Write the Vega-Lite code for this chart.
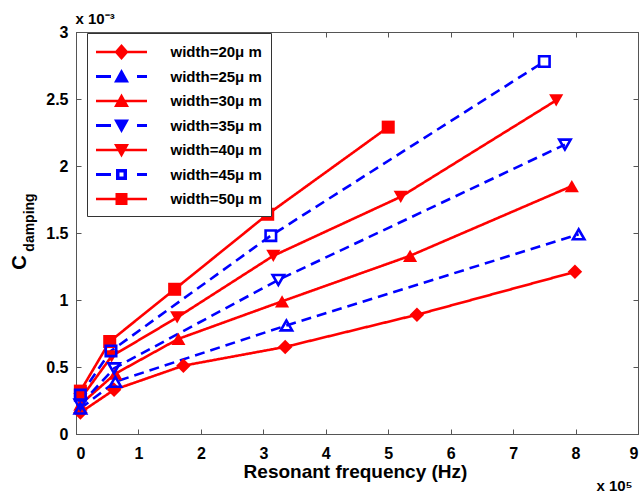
{
  "$schema": "https://vega.github.io/schema/vega-lite/v6.json",
  "width": 562,
  "height": 402,
  "autosize": {"type": "none"},
  "padding": {"left": 76, "top": 32, "right": 2, "bottom": 58},
  "background": "white",
  "config": {
    "view": {"stroke": "#555", "strokeWidth": 1},
    "font": "Liberation Sans",
    "axis": {
      "grid": false,
      "domainColor": "#555",
      "tickColor": "#555",
      "tickSize": -5,
      "labelFont": "Liberation Sans",
      "labelFontWeight": "bold",
      "labelFontSize": 16,
      "labelColor": "black",
      "titleFont": "Liberation Sans",
      "titleFontWeight": "bold",
      "titleColor": "black"
    },
    "legend": {
      "orient": "none", "legendX": 11, "legendY": 1, "title": null,
      "fillColor": "white", "strokeColor": "#333", "padding": 9,
      "symbolSize": 400, "symbolStrokeWidth": 0, "symbolOpacity": 1, "symbolOffset": 15.5,
      "labelFont": "Liberation Sans", "labelFontSize": 15, "labelFontWeight": "bold",
      "labelColor": "black", "labelOffset": 39, "labelLimit": 300, "rowPadding": 6.5
    }
  },
  "data": {
    "values": [
      {"s": "width=20μ m", "f": 0.07, "c": 0.16},
      {"s": "width=20μ m", "f": 0.61, "c": 0.33},
      {"s": "width=20μ m", "f": 1.72, "c": 0.51},
      {"s": "width=20μ m", "f": 3.35, "c": 0.65},
      {"s": "width=20μ m", "f": 5.46, "c": 0.89},
      {"s": "width=20μ m", "f": 7.99, "c": 1.21},
      {"s": "width=25μ m", "f": 0.07, "c": 0.19},
      {"s": "width=25μ m", "f": 0.63, "c": 0.39},
      {"s": "width=25μ m", "f": 3.37, "c": 0.81},
      {"s": "width=25μ m", "f": 8.05, "c": 1.49},
      {"s": "width=30μ m", "f": 0.07, "c": 0.22},
      {"s": "width=30μ m", "f": 0.63, "c": 0.45},
      {"s": "width=30μ m", "f": 1.64, "c": 0.71},
      {"s": "width=30μ m", "f": 3.30, "c": 0.99},
      {"s": "width=30μ m", "f": 5.35, "c": 1.33},
      {"s": "width=30μ m", "f": 7.94, "c": 1.85},
      {"s": "width=35μ m", "f": 0.07, "c": 0.22},
      {"s": "width=35μ m", "f": 0.61, "c": 0.49},
      {"s": "width=35μ m", "f": 3.24, "c": 1.15},
      {"s": "width=35μ m", "f": 7.83, "c": 2.16},
      {"s": "width=40μ m", "f": 0.07, "c": 0.26},
      {"s": "width=40μ m", "f": 0.57, "c": 0.58},
      {"s": "width=40μ m", "f": 1.62, "c": 0.87},
      {"s": "width=40μ m", "f": 3.16, "c": 1.33},
      {"s": "width=40μ m", "f": 5.20, "c": 1.77},
      {"s": "width=40μ m", "f": 7.69, "c": 2.49},
      {"s": "width=45μ m", "f": 0.07, "c": 0.29},
      {"s": "width=45μ m", "f": 0.56, "c": 0.62},
      {"s": "width=45μ m", "f": 3.12, "c": 1.48},
      {"s": "width=45μ m", "f": 7.50, "c": 2.78},
      {"s": "width=50μ m", "f": 0.07, "c": 0.32},
      {"s": "width=50μ m", "f": 0.54, "c": 0.69},
      {"s": "width=50μ m", "f": 1.58, "c": 1.08},
      {"s": "width=50μ m", "f": 3.07, "c": 1.64},
      {"s": "width=50μ m", "f": 5.00, "c": 2.29}
    ]
  },
  "layer": [
    {
      "mark": {"type": "line", "strokeWidth": 2.6, "clip": true},
      "encoding": {
        "x": {
          "field": "f", "type": "quantitative",
          "scale": {"domain": [0, 9], "nice": false, "zero": false},
          "axis": {
            "orient": "bottom", "values": [0,1,2,3,4,5,6,7,8,9], "format": "~g",
            "labelPadding": 16, "title": "Resonant frequency (Hz)", "titleFontSize": 19,
            "titleBaseline": "alphabetic", "titleY": 43, "titleX": 279
          }
        },
        "y": {
          "field": "c", "type": "quantitative",
          "scale": {"domain": [0, 3], "nice": false},
          "axis": {
            "orient": "left", "values": [0,0.5,1,1.5,2,2.5,3], "format": "~g",
            "labelPadding": 13, "title": "C", "titleFontSize": 20, "titleAngle": -90,
            "titleX": -57, "titleY": 230, "titleBaseline": "middle", "titleAlign": "center"
          }
        },
        "color": {
          "field": "s", "type": "nominal",
          "scale": {
            "domain": ["width=20μ m","width=25μ m","width=30μ m","width=35μ m","width=40μ m","width=45μ m","width=50μ m"],
            "range": ["#ff0000","#0000ff","#ff0000","#0000ff","#ff0000","#0000ff","#ff0000"]
          }
        },
        "strokeDash": {
          "field": "s", "type": "nominal",
          "scale": {
            "domain": ["width=20μ m","width=25μ m","width=30μ m","width=35μ m","width=40μ m","width=45μ m","width=50μ m"],
            "range": [[1,0],[10,6],[1,0],[10,6],[1,0],[10,6],[1,0]]
          }
        }
      }
    },
    {
      "transform": [{"filter": {"field": "s", "equal": "width=20μ m"}}],
      "mark": {"type": "point", "shape": "diamond", "filled": true, "opacity": 1, "size": 210, "color": "#ff0000"},
      "encoding": {
        "x": {
          "field": "f", "type": "quantitative",
          "axis": {"orient": "top", "values": [0,1,2,3,4,5,6,7,8,9], "labels": false,
            "title": "x 10⁻³", "titleFontSize": 15, "titleAlign": "left", "titleAnchor": "start",
            "titleX": -1, "titleY": -9, "titleBaseline": "alphabetic", "titleAngle": 0}
        },
        "y": {
          "field": "c", "type": "quantitative",
          "axis": {"orient": "right", "values": [0,0.5,1,1.5,2,2.5,3], "labels": false,
            "title": "x 10⁵", "titleFontSize": 15, "titleAngle": 0, "titleAlign": "center",
            "titleX": -24, "titleY": 458, "titleBaseline": "alphabetic"}
        }
      }
    },
    {
      "transform": [{"filter": {"field": "s", "equal": "width=30μ m"}}],
      "mark": {"type": "point", "shape": "triangle-up", "filled": true, "opacity": 1, "size": 200, "color": "#ff0000"},
      "encoding": {
        "x": {"field": "f", "type": "quantitative", "axis": null},
        "y": {"field": "c", "type": "quantitative", "axis": null}
      }
    },
    {
      "transform": [{"filter": {"field": "s", "equal": "width=40μ m"}}],
      "mark": {"type": "point", "shape": "triangle-down", "filled": true, "opacity": 1, "size": 200, "color": "#ff0000"},
      "encoding": {
        "x": {"field": "f", "type": "quantitative", "axis": null},
        "y": {"field": "c", "type": "quantitative", "axis": null}
      }
    },
    {
      "transform": [{"filter": {"field": "s", "equal": "width=50μ m"}}],
      "mark": {"type": "point", "shape": "square", "filled": true, "opacity": 1, "size": 170, "color": "#ff0000"},
      "encoding": {
        "x": {"field": "f", "type": "quantitative", "axis": null},
        "y": {"field": "c", "type": "quantitative", "axis": null}
      }
    },
    {
      "transform": [{"filter": {"field": "s", "equal": "width=25μ m"}}],
      "mark": {"type": "point", "shape": "triangle-up", "filled": false, "opacity": 1, "size": 130, "strokeWidth": 2.6, "color": "#0000ff"},
      "encoding": {
        "x": {"field": "f", "type": "quantitative", "axis": null},
        "y": {
          "field": "c", "type": "quantitative",
          "axis": {"orient": "left", "labels": false, "ticks": false, "domain": false,
            "title": "damping", "titleFontSize": 14, "titleAngle": -90, "titleAlign": "center",
            "titleBaseline": "middle", "titleX": -47, "titleY": 190}
        }
      }
    },
    {
      "transform": [{"filter": {"field": "s", "equal": "width=35μ m"}}],
      "mark": {"type": "point", "shape": "triangle-down", "filled": false, "opacity": 1, "size": 130, "strokeWidth": 2.6, "color": "#0000ff"},
      "encoding": {
        "x": {"field": "f", "type": "quantitative", "axis": null},
        "y": {"field": "c", "type": "quantitative", "axis": null}
      }
    },
    {
      "transform": [{"filter": {"field": "s", "equal": "width=45μ m"}}],
      "mark": {"type": "point", "shape": "square", "filled": false, "opacity": 1, "size": 110, "strokeWidth": 2.6, "color": "#0000ff"},
      "encoding": {
        "x": {"field": "f", "type": "quantitative", "axis": null},
        "y": {"field": "c", "type": "quantitative", "axis": null}
      }
    },
    {
      "mark": {"type": "point", "filled": true, "opacity": 0},
      "encoding": {
        "x": {"field": "f", "type": "quantitative", "axis": null},
        "y": {"field": "c", "type": "quantitative", "axis": null},
        "color": {"field": "s", "type": "nominal"},
        "shape": {
          "field": "s", "type": "nominal",
          "scale": {
            "domain": ["width=20μ m","width=25μ m","width=30μ m","width=35μ m","width=40μ m","width=45μ m","width=50μ m"],
            "range": [
              "M-2.55,-0.13H2.55V0.13H-2.55ZM0,-0.8L0.7,0L0,0.8L-0.7,0Z",
              "M-2.55,-0.14H-1.05V0.14H-2.55ZM1.55,-0.14H2.55V0.14H1.55ZM0,-0.75L0.75,0.6L-0.75,0.6Z",
              "M-2.55,-0.13H2.55V0.13H-2.55ZM0,-0.75L0.75,0.6L-0.75,0.6Z",
              "M-2.55,-0.14H-1.05V0.14H-2.55ZM1.55,-0.14H2.55V0.14H1.55ZM0,0.75L-0.75,-0.6L0.75,-0.6Z",
              "M-2.55,-0.13H2.55V0.13H-2.55ZM0,0.75L-0.75,-0.6L0.75,-0.6Z",
              "M-2.55,-0.14H-1.05V0.14H-2.55ZM1.55,-0.14H2.55V0.14H1.55ZM-0.55,-0.55H0.55V0.55H-0.55ZM-0.2,-0.2V0.2H0.2V-0.2Z",
              "M-2.55,-0.13H2.55V0.13H-2.55ZM-0.6,-0.6H0.6V0.6H-0.6Z"
            ]
          }
        }
      }
    }
  ],
  "resolve": {"axis": {"x": "independent", "y": "independent"}}
}
